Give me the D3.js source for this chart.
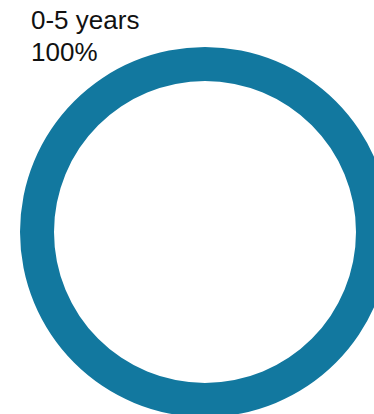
<!DOCTYPE html>
<html><head><meta charset="utf-8">
<script src="https://cdn.jsdelivr.net/npm/d3@7"></script>
<style>html,body{margin:0;padding:0;background:#fff;overflow:hidden}</style>
</head><body>
<svg id="chart" width="374" height="414"></svg>
<script>
const categories = ["0-5 years"];
const values = [100];
const colors = ["#12789f"];

const svg = d3.select("#chart");
const cx = 205, cy = 232, outerR = 185, innerR = 151;
const data = categories.map((c, i) => ({ category: c, value: values[i], color: colors[i] }));
const pie = d3.pie().sort(null).value(d => d.value);
const arc = d3.arc().innerRadius(innerR).outerRadius(outerR);
const total = d3.sum(values);

svg.append("g").attr("transform", `translate(${cx},${cy})`)
  .selectAll("path").data(pie(data)).join("path")
  .attr("d", arc).attr("fill", d => d.data.color);

const label = svg.append("g").attr("font-family", "Liberation Sans, Arial, sans-serif")
  .attr("font-size", 26).attr("fill", "#111");
data.forEach((d, i) => {
  label.append("text").attr("x", 31).attr("y", 29).text(d.category);
  label.append("text").attr("x", 31).attr("y", 61).text(Math.round(d.value / total * 100) + "%");
});
</script>
</body></html>
